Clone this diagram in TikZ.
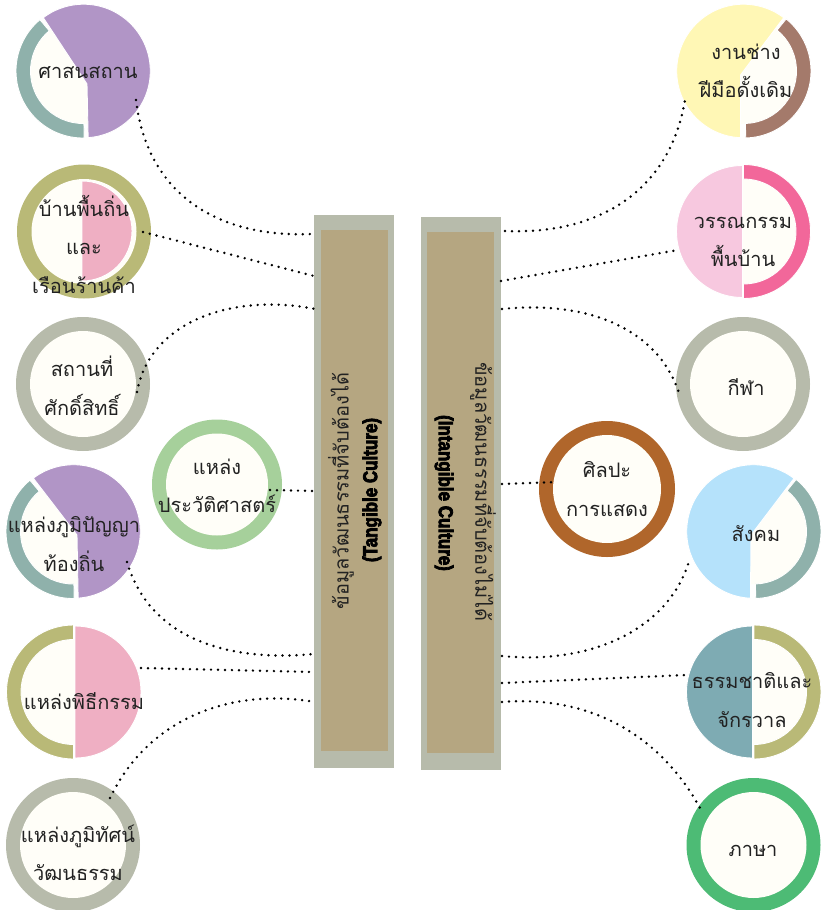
\documentclass[tikz,border=0pt]{standalone}
\usepackage{fontspec}
\usepackage{graphicx}
\setmainfont[Script=Thai]{Loma}
\newfontfamily\heavyfont[UprightFont=* Bold,FakeBold=4]{Liberation Sans}
\definecolor{cpurple}{HTML}{B195C6}
\definecolor{cteal}{HTML}{8FB1AB}
\definecolor{colive}{HTML}{B9B977}
\definecolor{cgray}{HTML}{B7BBAB}
\definecolor{ccream}{HTML}{FFFEF8}
\definecolor{cpink}{HTML}{EFAFC3}
\definecolor{cyellow}{HTML}{FFF7B5}
\definecolor{cbrown}{HTML}{A47A6B}
\definecolor{clpink}{HTML}{F7C8DF}
\definecolor{chot}{HTML}{F2679A}
\definecolor{cblue}{HTML}{B5E2FB}
\definecolor{cbgreen}{HTML}{7EABB3}
\definecolor{cgreen}{HTML}{4DBB75}
\definecolor{clgreen}{HTML}{A6D09B}
\definecolor{corange}{HTML}{B0662B}
\definecolor{ctan}{HTML}{B5A681}
\definecolor{cink}{HTML}{222222}
% disc: x,y,R,colour
\newcommand{\discP}[4]{\fill[#4] (#1,#2) circle[radius=#3];}
% pie: cx,cy,r,a1,a2,apex,colour
\newcommand{\pieP}[7]{\filldraw[draw=white,line width=0.9pt,fill=#7] #6 -- ([shift={(#1,#2)}]#4:#3) arc[start angle=#4,end angle=#5,radius=#3] -- cycle;}
% ring segment: cx,cy,R,r,a1,a2,colour
\newcommand{\segP}[7]{\filldraw[draw=white,line width=0.9pt,fill=#7] ([shift={(#1,#2)}]#5:#3) arc[start angle=#5,end angle=#6,radius=#3] -- ([shift={(#1,#2)}]#6:#4) arc[start angle=#6,end angle=#5,radius=#4] -- cycle;}
\tikzset{
  lbl/.style={font=\fontsize{20}{38.5}\selectfont,text=cink,align=center,inner sep=0pt},
  dots/.style={line width=2.7pt,line cap=round,dash pattern=on 0pt off 7pt,black},
  barouter/.style={fill=cgray,draw=none,minimum width=80pt,minimum height=553pt,inner sep=0pt},
  barinner/.style={fill=ctan,draw=none,minimum width=67pt,minimum height=521pt,inner sep=0pt},
  barthai/.style={font=\fontsize{20}{24}\selectfont,text=cink,inner sep=0pt},
  barlatin/.style={font=\heavyfont\fontsize{20}{24}\selectfont,text=black,inner sep=0pt}
}
\begin{document}
\begin{tikzpicture}[x=1pt,y=-1pt]
\useasboundingbox (0,0) rectangle (823,910);
% ---- bars
\node[barouter] (barL) at (354,491.5) {};
\node[barinner] (barLi) at (354.5,490.5) {};
\node[barouter] (barR) at (461,493.5) {};
\node[barinner] (barRi) at (460.5,492.5) {};
% ---- left column
\discP{83}{71}{53}{ccream}
\segP{83}{71}{67}{52.5}{89}{230}{cteal}
\pieP{83.5}{71}{66.8}{86}{-127}{(87,84)}{cpurple}
\discP{84}{231.5}{67}{colive}
\discP{84}{231.5}{52.5}{ccream}
\pieP{82}{231}{50}{90}{-90}{(82,231)}{cpink}
\discP{83}{384}{67}{cgray}
\discP{83}{384}{53}{ccream}
\discP{73}{531.5}{53}{ccream}
\segP{73}{531.5}{67}{52.5}{89}{230}{cteal}
\pieP{73.5}{531.5}{66.8}{86}{-127}{(77,535)}{cpurple}
\discP{73}{692}{53}{ccream}
\segP{73.5}{692}{67}{52.5}{90}{270}{colive}
\pieP{75}{692}{66}{90}{-90}{(75,692)}{cpink}
\discP{73}{845}{67}{cgray}
\discP{73}{845}{53}{ccream}
\discP{217}{484.5}{65}{clgreen}
\discP{217}{484.5}{51}{ccream}
% ---- centre right
\discP{607}{489}{68}{corange}
\discP{607}{489}{54}{ccream}
% ---- right column
\discP{744}{71}{53}{ccream}
\segP{744}{71}{67}{52.5}{88.5}{-51}{cbrown}
\pieP{743.5}{71}{66.8}{92.6}{307}{(740.5,75)}{cyellow}
\discP{744}{231.5}{53}{ccream}
\segP{743.5}{231.5}{67}{52.5}{-90}{90}{chot}
\pieP{742.5}{231.5}{66}{90}{270}{(742.5,231.5)}{clpink}
\discP{743}{384}{67}{cgray}
\discP{743}{384}{53}{ccream}
\discP{754}{531.5}{53}{ccream}
\segP{754}{531.5}{67}{52.5}{88.5}{-51}{cteal}
\pieP{753.5}{531.5}{66.8}{92.6}{307.3}{(751,535)}{cblue}
\discP{754}{692}{53}{ccream}
\segP{754}{692}{67}{52.5}{-90}{90}{colive}
\pieP{752.5}{692}{66}{90}{270}{(752.5,692)}{cbgreen}
\discP{753.5}{845}{67}{cgreen}
\discP{753.5}{845}{53}{ccream}
% ---- connector ends
\coordinate (a1) at (136,100); \coordinate (b1) at (312,234);
\coordinate (a2) at (143,232); \coordinate (b2) at (314,276);
\coordinate (a3) at (137,392); \coordinate (b3) at (315,309);
\coordinate (a4) at (270,490); \coordinate (b4) at (314,491);
\coordinate (a5) at (127,562); \coordinate (b5) at (314,654);
\coordinate (a6) at (141,668); \coordinate (b6) at (314,672);
\coordinate (a7) at (110,798); \coordinate (b7) at (315,702);
\coordinate (c1) at (505,231); \coordinate (d1) at (685,100);
\coordinate (c2) at (501,281); \coordinate (d2) at (678,250);
\coordinate (c3) at (502,309); \coordinate (d3) at (680,396);
\coordinate (c4) at (502,484); \coordinate (d4) at (556,482);
\coordinate (c5) at (502,656); \coordinate (d5) at (690,558);
\coordinate (c6) at (502,683); \coordinate (d6) at (686,675);
\coordinate (c7) at (502,702); \coordinate (d7) at (700,808);
% ---- connectors
\draw[dots] (a1) .. controls (148,200) and (225,238) .. (b1);
\draw[dots] (a2) -- (b2);
\draw[dots] (a3) .. controls (150,320) and (235,293) .. (b3);
\draw[dots] (a4) -- (b4);
\draw[dots] (a5) .. controls (150,640) and (230,662) .. (b5);
\draw[dots] (a6) -- (b6);
\draw[dots] (a7) .. controls (150,715) and (235,688) .. (b7);
\draw[dots] (c1) .. controls (600,235) and (670,190) .. (d1);
\draw[dots] (c2) -- (d2);
\draw[dots] (c3) .. controls (590,300) and (660,330) .. (d3);
\draw[dots] (c4) -- (d4);
\draw[dots] (c5) .. controls (590,665) and (670,630) .. (d5);
\draw[dots] (c6) -- (d6);
\draw[dots] (c7) .. controls (590,695) and (660,735) .. (d7);
% ---- labels
\node[lbl] (t1) at (88,73) {ศาสนสถาน};
\node[lbl] (t2) at (84,244) {บ้านพื้นถิ่น\\และ\\เรือนร้านค้า};
\node[lbl] (t3) at (82,386) {สถานที่\\ศักดิ์สิทธิ์};
\node[lbl] (t4) at (74,544) {แหล่งภูมิปัญญา\\ท้องถิ่น};
\node[lbl] (t5) at (84,701) {แหล่งพิธีกรรม};
\node[lbl] (t6) at (78,853) {แหล่งภูมิทัศน์\\วัฒนธรรม};
\node[lbl] (t7) at (217,486) {แหล่ง\\ประวัติศาสตร์};
\node[lbl] (t8) at (607,489) {ศิลปะ\\การแสดง};
\node[lbl] (t9) at (746,71) {งานช่าง\\ฝีมือดั้งเดิม};
\node[lbl] (t10) at (743,242) {วรรณกรรม\\พื้นบ้าน};
\node[lbl] (t11) at (746,387) {กีฬา};
\node[lbl] (t12) at (756,534) {สังคม};
\node[lbl] (t13) at (752,700) {ธรรมชาติและ\\จักรวาล};
\node[lbl] (t14) at (753,851) {ภาษา};
\node[barthai,rotate=90] (th1) at (341,491) {ข้อมูลวัฒนธรรมที่จับต้องได้};
\node[barlatin,rotate=90] (la1) at (372,490) {\scalebox{0.85}[1]{(Tangible Culture)}};
\node[barthai,rotate=-90] (th2) at (483,492) {ข้อมูลวัฒนธรรมที่จับต้องไม่ได้};
\node[barlatin,rotate=-90] (la2) at (444,493) {\scalebox{0.85}[1]{(Intangible Culture)}};
\end{tikzpicture}
\end{document}
